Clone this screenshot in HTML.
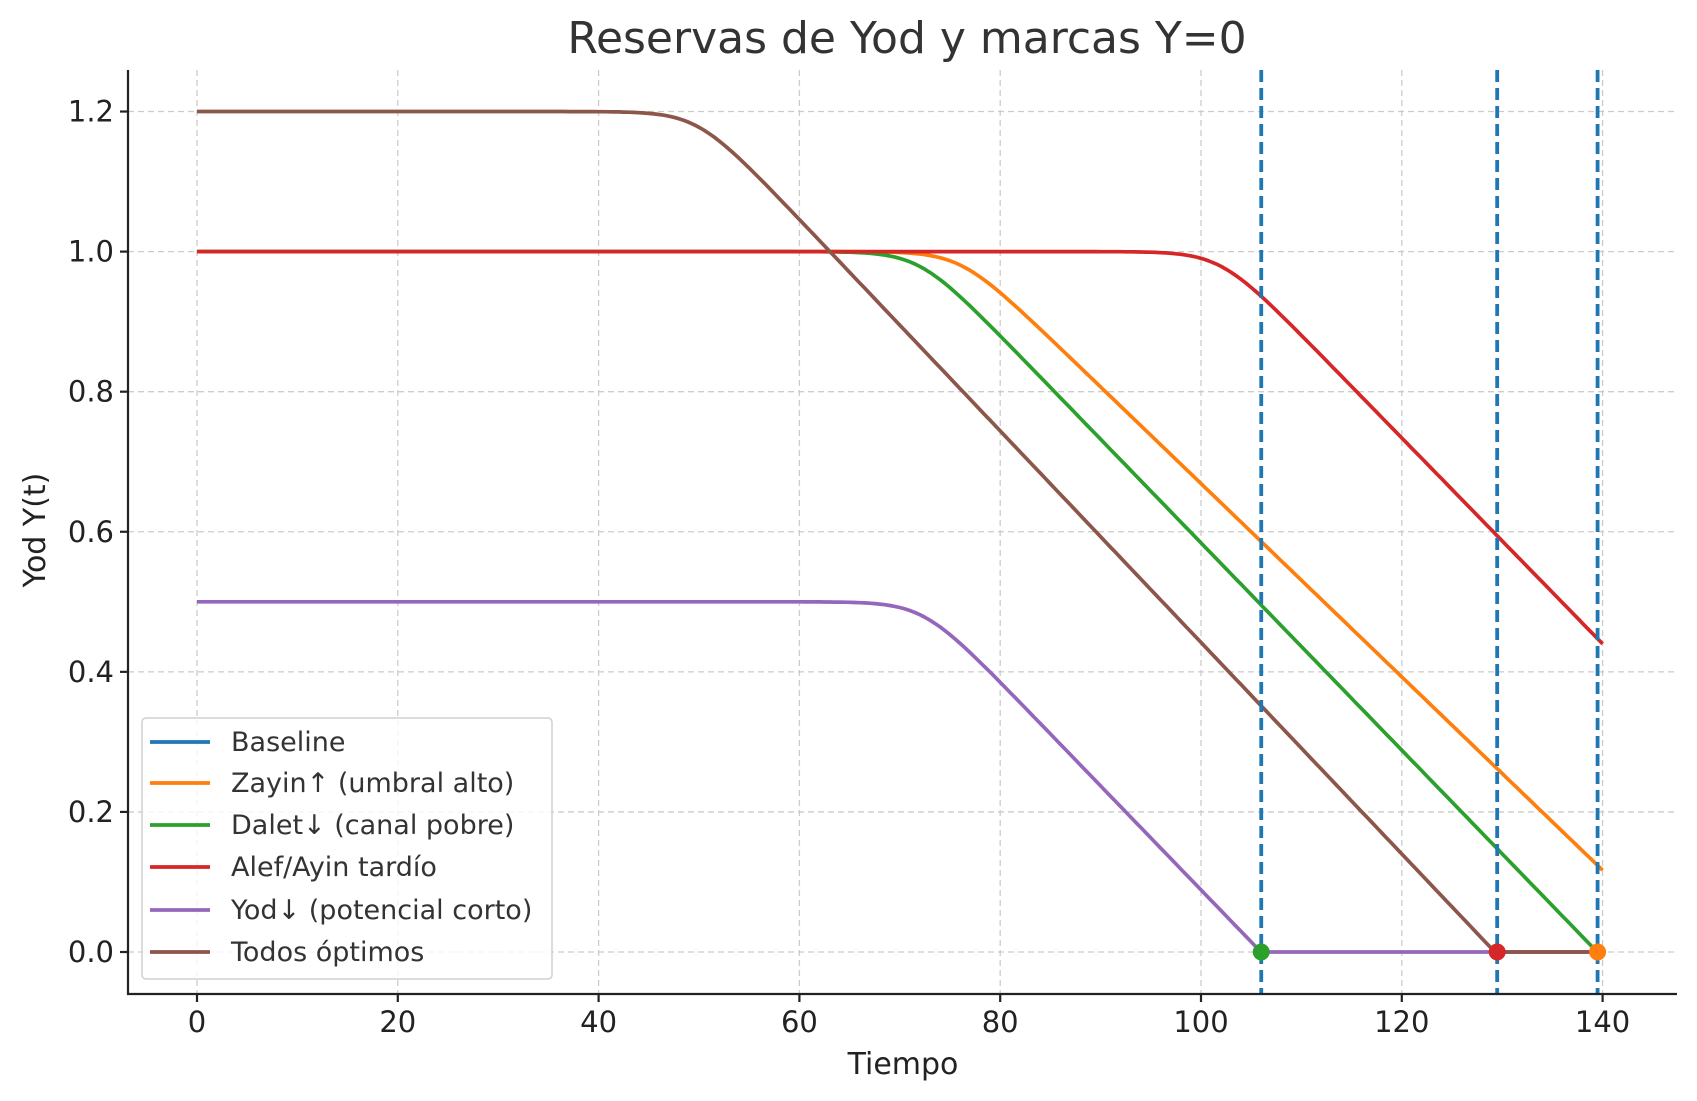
<!DOCTYPE html>
<html><head><meta charset="utf-8"><style>
html,body{margin:0;padding:0;background:#fff}
svg{display:block;font-family:"DejaVu Sans","Liberation Sans",sans-serif}
</style></head><body>
<svg id="s" width="1697" height="1101" viewBox="0 0 1697 1101" xmlns="http://www.w3.org/2000/svg">
<rect width="1697" height="1101" fill="#fff"/>
<g id="grid" stroke="#cccccc" stroke-width="1.3" stroke-dasharray="6,4"></g>
<g id="series" fill="none" stroke-width="3.7" stroke-linejoin="round"></g>
<g id="vl" stroke="#1f77b4" stroke-width="3.8" stroke-dasharray="12,6"></g>
<g id="mk"></g>
<g id="axes" stroke="#222" stroke-width="2.2"></g>
<g id="lab" fill="#222" font-size="29"></g>
<text x="907" y="53" text-anchor="middle" font-size="44" fill="#333">Reservas de Yod y marcas Y=0</text>
<text x="903" y="1074" text-anchor="middle" font-size="30" fill="#222">Tiempo</text>
<text transform="translate(45,530) rotate(-90)" text-anchor="middle" font-size="30" fill="#222">Yod Y(t)</text>
<g id="leg"></g>
</svg>
<script>
var NS="http://www.w3.org/2000/svg";
function X(t){return 197+t*10.04;}
function Y(v){return 952-v*700.4;}
function el(p,tag,a,txt){var e=document.createElementNS(NS,tag);for(var k in a)e.setAttribute(k,a[k]);if(txt!=null)e.textContent=txt;document.getElementById(p).appendChild(e);return e;}
var L=128,R=1677,T=70,B=994;
for(var t=0;t<=140;t+=20){el('grid','line',{x1:X(t),x2:X(t),y1:T,y2:B});el('axes','line',{x1:X(t),x2:X(t),y1:B,y2:B+8});el('lab','text',{x:X(t),y:B+38,'text-anchor':'middle'},String(t));}
for(var i=0;i<=6;i++){var v=i*0.2;el('grid','line',{x1:L,x2:R,y1:Y(v),y2:Y(v)});el('axes','line',{x1:L-8,x2:L,y1:Y(v),y2:Y(v)});el('lab','text',{x:L-14,y:Y(v)+10,'text-anchor':'end'},v.toFixed(1));}
el('axes','line',{x1:L,x2:L,y1:T,y2:B+1});el('axes','line',{x1:L-1,x2:R,y1:B,y2:B});
function sp(x,s){return x/s>30?x:s*Math.log(1+Math.exp(x/s));}
var S=[
 ['#ff7f0e',1.0,76,0.0138,140],
 ['#2ca02c',1.0,71.9,0.0148,139.5],
 ['#d62728',1.0,101.9,0.0147,140],
 ['#9467bd',0.5,72.3,0.01485,106],
 ['#8c564b',1.2,49.8,0.0151,129.5]];
S.forEach(function(s){var d='';for(var t=0;t<=140.001;t+=0.5){var y=s[1]-s[3]*sp(t-s[2],2);if(y<0)y=0;d+=(t?'L':'M')+X(t).toFixed(1)+','+Y(y).toFixed(1);}
 el('series','path',{d:d,stroke:s[0]});});
[106,129.5,139.5].forEach(function(t){el('vl','line',{x1:X(t),x2:X(t),y1:T,y2:B});});
[['#2ca02c',106],['#d62728',129.5],['#ff7f0e',139.5]].forEach(function(m){el('mk','circle',{cx:X(m[1]),cy:Y(0),r:8.5,fill:m[0]});});
el('leg','rect',{x:142,y:718,width:410,height:261,rx:4,fill:'#fff','fill-opacity':0.8,stroke:'#d0d0d0','stroke-width':1.5});
var names=['Baseline','Zayin↑ (umbral alto)','Dalet↓ (canal pobre)','Alef/Ayin tardío','Yod↓ (potencial corto)','Todos óptimos'];
var cols=['#1f77b4','#ff7f0e','#2ca02c','#d62728','#9467bd','#8c564b'];
var ys=[742,783,825,867,910,952];
for(var i=0;i<6;i++){el('leg','line',{x1:150,x2:210,y1:ys[i],y2:ys[i],stroke:cols[i],'stroke-width':3.7});el('leg','text',{x:231,y:ys[i]+9,'font-size':27,fill:'#333'},names[i]);}
</script>
</body></html>
